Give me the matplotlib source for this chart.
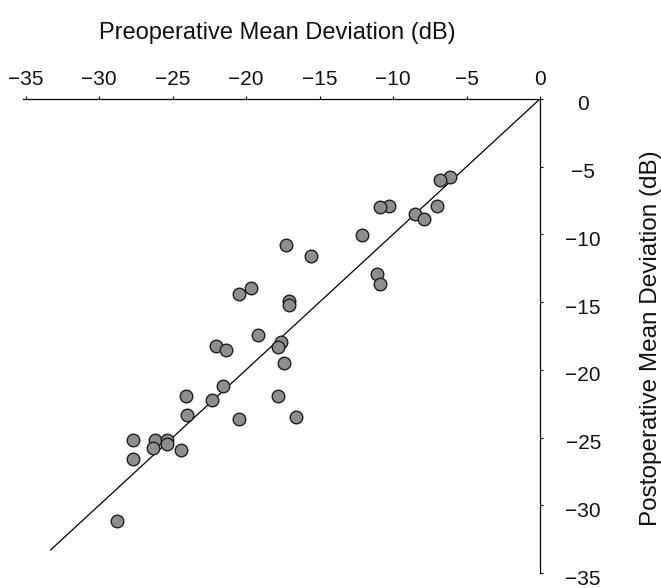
import matplotlib
matplotlib.use("Agg")
import matplotlib.pyplot as plt
import matplotlib.transforms as mtransforms

plt.rcParams['font.family'] = ['Liberation Sans', 'DejaVu Sans']

# Preoperative MD (x) and postoperative MD (y), dB
pre_md = [-6.1, -6.8, -10.25, -10.9, -7.0, -8.5, -7.9, -12.1, -11.1, -10.9,
          -17.3, -15.6, -19.7, -20.45, -17.05, -17.05, -19.2, -22.05, -21.35, -17.6,
          -17.85, -17.4, -21.55, -24.1, -22.3, -17.85, -24.0, -20.45, -16.6, -27.7,
          -26.2, -26.3, -25.35, -25.35, -24.4, -27.7, -28.75]
post_md = [-5.8, -6.0, -7.9, -8.0, -7.9, -8.5, -8.9, -10.05, -12.9, -13.65,
           -10.8, -11.6, -14.0, -14.4, -14.9, -15.25, -17.45, -18.25, -18.55, -17.95,
           -18.3, -19.5, -21.2, -21.9, -22.2, -21.9, -23.35, -23.6, -23.5, -25.15,
           -25.2, -25.8, -25.2, -25.5, -25.9, -26.6, -31.15]
ticks = [-35, -30, -25, -20, -15, -10, -5, 0]
identity_line = [0, -33.3]

fig = plt.figure(figsize=(6.61, 5.88), dpi=100)
ax = fig.add_axes([0.0342, 0.0255, 0.783, 0.8065])

ax.plot(identity_line, identity_line, color='black', lw=0.9, zorder=1)
ax.scatter(pre_md, post_md, s=82, facecolor='#8e8e8e', edgecolor='#1e1e1e',
           linewidths=1.0, zorder=2)

ax.set_xlim(-35.2, 0)
ax.set_ylim(-35, 0)

for side in ['left', 'bottom']:
    ax.spines[side].set_visible(False)
for side in ['top', 'right']:
    ax.spines[side].set_linewidth(0.9)

ax.xaxis.set_ticks_position('top')
ax.yaxis.set_ticks_position('right')
ax.set_xticks(ticks)
ax.set_yticks(ticks)
ax.set_xticklabels([str(t).replace('-', '\u2212') for t in ticks])
ax.set_yticklabels([str(t).replace('-', '\u2212') for t in ticks])
ax.tick_params(axis='x', direction='out', length=2, width=0.8, pad=5, labelsize=15, labelcolor='#111111')
ax.tick_params(axis='y', direction='out', length=2, width=0.8, pad=29, labelsize=15, labelcolor='#111111')
for lab in ax.get_yticklabels():
    lab.set_horizontalalignment('center')
    lab.set_transform(lab.get_transform() + mtransforms.ScaledTranslation(0, -4/100, fig.dpi_scale_trans))

fig.text(0.42, 1 - 33/588, 'Preoperative Mean Deviation (dB)', ha='center', va='center',
         fontsize=17, color='#111111')
fig.text(651/661, 1 - 338/588, 'Postoperative Mean Deviation (dB)', ha='center', va='center',
         rotation=90, fontsize=17.5, color='#111111')

fig.savefig('out.png', dpi=100)
